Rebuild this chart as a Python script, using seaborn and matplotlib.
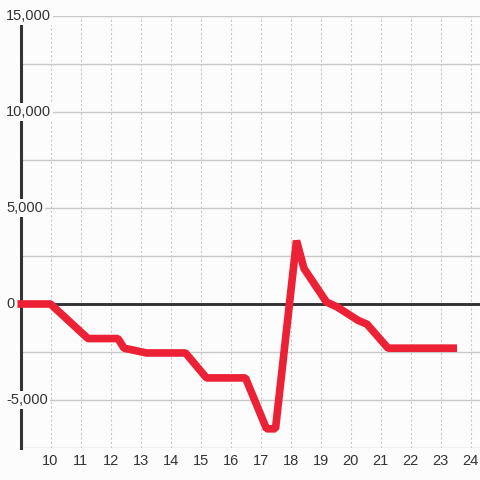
import matplotlib
matplotlib.use("Agg")
import matplotlib.pyplot as plt
import seaborn as sns
from matplotlib.ticker import FuncFormatter

# ---- data ----
hours = [8.9, 10.0, 11.25, 12.25, 12.45, 13.2, 14.5, 15.2, 16.5, 17.2, 17.5,
         18.2, 18.45, 19.2, 19.55, 20.25, 20.55, 21.25, 23.55]
balance = [0, 0, -1800, -1800, -2300, -2550, -2550, -3850, -3850, -6500, -6500,
           3300, 1850, 100, -150, -850, -1050, -2300, -2300]

x_ticks = list(range(10, 25))
y_major = [-5000, 0, 5000, 10000, 15000]
y_minor = [-7500, -2500, 2500, 7500, 12500]

bg = "#fbfcfb"
red = "#ec2135"
dark = "#333333"
grid_col = "#c8c8c8"

sns.set_style("white")
plt.rcParams["font.family"] = ["Liberation Sans", "DejaVu Sans"]

fig = plt.figure(figsize=(4.8, 4.8), dpi=100, facecolor=bg)
left = 20.5 / 480
ax = fig.add_axes([left, 32 / 480, 1 - left, 432 / 480])
ax.set_facecolor(bg)

sns.lineplot(x=hours, y=balance, ax=ax, color=red, linewidth=5.5, zorder=5,
             clip_on=False, solid_joinstyle="bevel", solid_capstyle="butt")
ax.axhline(0, color=dark, lw=2.1, zorder=4)

ax.set_xlim(9, 9 + (480 - 20.5) / 30)
ax.set_ylim(-7500, 15000)

for s in ["top", "right", "bottom"]:
    ax.spines[s].set_visible(False)
ax.spines["left"].set_color(dark)
ax.spines["left"].set_linewidth(2.2)

# grid
ax.set_xticks(x_ticks)
ax.xaxis.grid(True, color=grid_col, lw=0.8, linestyle=(0, (2, 2)))
ax.set_yticks(y_major)
ax.set_yticks(y_minor, minor=True)
ax.yaxis.grid(True, which="both", color=grid_col, lw=1.0, linestyle="-")
ax.tick_params(axis="both", which="both", length=0)
ax.tick_params(axis="y", labelleft=False)
ax.tick_params(axis="x", pad=4, labelsize=10.5, labelcolor=dark)
ax.set_xlabel("")
ax.set_ylabel("")

# y labels sit inside the plot with a background box over the spine
fmt = FuncFormatter(lambda v, p: f"{v:,.0f}")
for v in y_major:
    ax.text(-14.5 / 459.5, v, fmt(v), transform=ax.get_yaxis_transform(),
            ha="left", va="center", fontsize=10.5, color=dark, zorder=4.5,
            clip_on=False,
            bbox=dict(facecolor=bg, edgecolor="none", pad=1.5))

fig.savefig("out.png", dpi=100, facecolor=bg)
